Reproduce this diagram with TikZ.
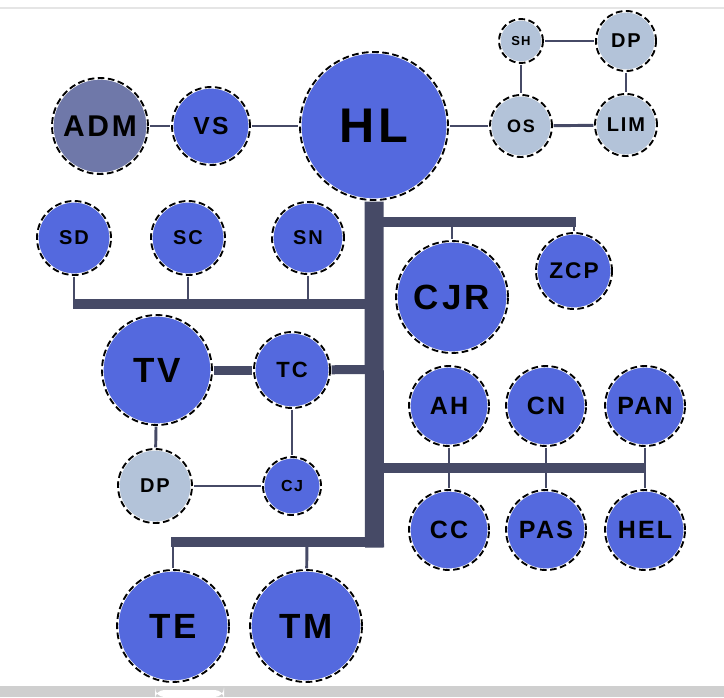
\documentclass[tikz,border=0pt]{standalone}
\usepackage{fontspec}
\newfontfamily\lab{Liberation Sans}[LetterSpace=9]
\newcommand{\lfs}[1]{\fontsize{#1}{#1}\selectfont}
\definecolor{nodeblue}{HTML}{5469DE}
\definecolor{nodelight}{HTML}{B3C3D9}
\definecolor{nodeadm}{HTML}{6F78A9}
\definecolor{barcol}{HTML}{464A66}
\tikzset{
  nd/.style={circle, inner sep=0pt, minimum size=#1*1.5pt, fill=nodeblue,
    draw=white, line width=2.4pt,
    postaction={draw=black, line width=1.4pt, dash pattern=on 5pt off 2.6pt},
    text=black},
  lt/.style={fill=nodelight},
  thinln/.style={draw=barcol, line width=2.2pt},
  barln/.style={draw=barcol, line width=7.5pt},
}
\begin{document}
\begin{tikzpicture}[x=0.75pt,y=-0.75pt]
\useasboundingbox (0,0) rectangle (724,697);
\fill[white] (0,0) rectangle (724,697);
\draw[color=black!10, line width=0.8pt] (0,8) -- (724,8);
\fill[black!19] (0,686) rectangle (724,697);
\fill[white, rounded corners=7pt] (155,697) -- (155,690) -- (224,690) -- (224,697) -- cycle;

% nodes
\node[nd=48, fill=nodeadm, font=\lab\bfseries\lfs{22.5pt}] (adm) at (100,126) {ADM};
\node[nd=39, font=\lab\bfseries\lfs{18.5pt}] (vs) at (211,126) {VS};
\node[nd=74, font=\lab\bfseries\lfs{36.5pt}] (hl) at (374,126) {HL};
\node[nd=22, lt, font=\lab\bfseries\lfs{9.75pt}] (sh) at (521,41) {SH};
\node[nd=30, lt, font=\lab\bfseries\lfs{15pt}] (dpa) at (626,41) {DP};
\node[nd=31, lt, font=\lab\bfseries\lfs{13.5pt}] (os) at (521,126) {OS};
\node[nd=31, lt, font=\lab\bfseries\lfs{15pt}] (lim) at (626,125) {LIM};
\node[nd=37, font=\lab\bfseries\lfs{15pt}] (sd) at (74,238) {SD};
\node[nd=37, font=\lab\bfseries\lfs{15pt}] (sc) at (188,238) {SC};
\node[nd=36, font=\lab\bfseries\lfs{15pt}] (sn) at (308,238) {SN};
\node[nd=56, font=\lab\bfseries\lfs{26.25pt}] (cjr) at (452,297) {CJR};
\node[nd=38, font=\lab\bfseries\lfs{17pt}] (zcp) at (574,271) {ZCP};
\node[nd=55, font=\lab\bfseries\lfs{26.25pt}] (tv) at (157,370) {TV};
\node[nd=38, font=\lab\bfseries\lfs{16.5pt}] (tc) at (292,370) {TC};
\node[nd=37, lt, font=\lab\bfseries\lfs{15pt}] (dpb) at (155,486) {DP};
\node[nd=29, font=\lab\bfseries\lfs{12pt}] (cj) at (292,486) {CJ};
\node[nd=40, font=\lab\bfseries\lfs{18.75pt}] (ah) at (449,406) {AH};
\node[nd=40, font=\lab\bfseries\lfs{18.75pt}] (cn) at (546,406) {CN};
\node[nd=40, font=\lab\bfseries\lfs{18.75pt}] (pan) at (645,406) {PAN};
\node[nd=40, font=\lab\bfseries\lfs{18.75pt}] (cc) at (449,530) {CC};
\node[nd=40, font=\lab\bfseries\lfs{18.75pt}] (pas) at (546,530) {PAS};
\node[nd=40, font=\lab\bfseries\lfs{18.75pt}] (hel) at (645,530) {HEL};
\node[nd=56, font=\lab\bfseries\lfs{26.25pt}] (te) at (173,626) {TE};
\node[nd=56, font=\lab\bfseries\lfs{26.25pt}] (tm) at (306,626) {TM};

% coordinates for bars
\coordinate (trunkend) at (374.5,547.5);
\coordinate (trr) at (576,222);
\coordinate (trcjr) at (452,222);
\coordinate (trzcp) at (574,222);
\coordinate (tlt) at (374.5,303.5);
\coordinate (tll) at (73,303.5);
\coordinate (tlsd) at (74,303.5);
\coordinate (tlsc) at (188,303.5);
\coordinate (tlsn) at (308,303.5);
\coordinate (tmid) at (374.5,369.5);
\coordinate (rt) at (374.5,468);
\coordinate (rr) at (646,468);
\coordinate (bt) at (374.5,542);
\coordinate (bl) at (171,542);
\coordinate (bte) at (173,542);
\coordinate (btm) at (307,542);

\begin{scope}[on background layer/.style={}]
% thin connectors
\draw[thinln] (adm) -- (vs);
\draw[thinln] (vs) -- (hl);
\draw[thinln] (hl) -- (os);
\draw[thinln] (os) -- (lim);
\draw[thinln] (sh) -- (dpa);
\draw[thinln] (sh) -- (os);
\draw[thinln] (dpa) -- (lim);
\draw[thinln] (tv) -- (dpb);
\draw[thinln] (dpb) -- (cj);
\draw[thinln] (tc) -- (cj);
\draw[thinln] (ah) -- (cc);
\draw[thinln] (cn) -- (pas);
\draw[thinln] (pan) -- (hel);
\draw[thinln] (trcjr) -- (cjr);
\draw[thinln] (trzcp) -- (zcp);
\draw[thinln] (sd) -- (tlsd);
\draw[thinln] (sc) -- (tlsc);
\draw[thinln] (sn) -- (tlsn);
\draw[thinln] (bte) -- (te);
\draw[thinln] (btm) -- (tm);
% thick bars
\draw[barcol, line width=14.25pt] (hl.south) -- (trunkend);
\draw[barln] ([xshift=-3pt]hl.south |- trr) -- (trr);
\draw[barln] (tlt) -- (tll);
\draw[barcol, line width=6.75pt] (tv) -- (tc);
\draw[barcol, line width=6.75pt] (tc) -- (tmid);
\draw[barln] (rt) -- (rr);
\draw[barln] (bt) -- (bl);
\end{scope}
\end{tikzpicture}
\end{document}
